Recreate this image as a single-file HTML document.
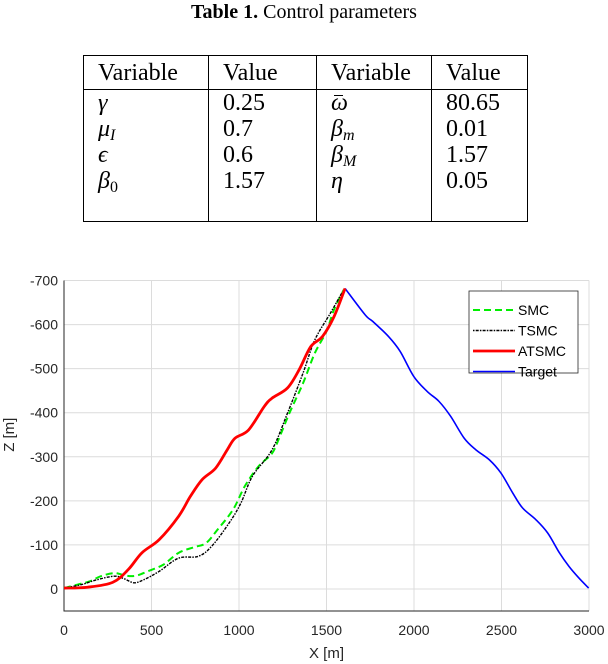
<!DOCTYPE html>
<html><head><meta charset="utf-8">
<style>
html,body{margin:0;padding:0;background:#fff;width:608px;height:664px;overflow:hidden;position:relative}
.title{position:absolute;left:0;width:608px;top:0;text-align:center;font-family:"Liberation Serif",serif;font-size:20px;line-height:24px;color:#000}
table{position:absolute;left:83px;top:55px;border-collapse:collapse;font-family:"Liberation Serif",serif;font-size:24px;color:#000;border:1.3px solid #000}
td{border-left:1.3px solid #000;border-right:1.3px solid #000;padding:0 0 0 14px;height:26px;line-height:24px;vertical-align:middle;box-sizing:border-box}
tr.h td{border-bottom:1.3px solid #000;height:34px}
tr.last td{height:54px;vertical-align:top;padding-top:1px}
i{font-style:italic}
sub{font-size:16px;vertical-align:-4px;line-height:0}
.bar{position:absolute;left:3px;top:-4px;width:9px;height:1.3px;background:#000}
</style></head><body>
<div class="title"><b>Table 1.</b> Control parameters</div>
<table>
<tr class="h"><td style="width:125px">Variable</td><td style="width:108px">Value</td><td style="width:115px">Variable</td><td style="width:96px">Value</td></tr>
<tr><td><i>γ</i></td><td>0.25</td><td><span style="position:relative;display:inline-block"><i>ω</i><span class="bar" style="top:4px"></span></span></td><td>80.65</td></tr>
<tr><td><i>μ<sub>I</sub></i></td><td>0.7</td><td><i>β<sub>m</sub></i></td><td>0.01</td></tr>
<tr><td><i>ϵ</i></td><td>0.6</td><td><i>β<sub>M</sub></i></td><td>1.57</td></tr>
<tr class="last"><td><i>β</i><sub>0</sub></td><td>1.57</td><td><i>η</i></td><td>0.05</td></tr>
</table>
<svg id="chart" width="608" height="664" style="position:absolute;left:0;top:0"></svg>
<script>
const xTicks=[0,500,1000,1500,2000,2500,3000];
const yTicks=[-700,-600,-500,-400,-300,-200,-100,0];
const targetX=[1606,1721,1765,1854,1921,1999,2076,2142,2209,2287,2353,2431,2497,2564,2620,2697,2764,2831,2886,2942,2998];
const targetZ=[-682,-622,-607,-573,-539,-482,-448,-426,-392,-342,-316,-293,-263,-218,-184,-157,-127,-82,-51,-25,-2];
const atsmcX=[0,134,278,367,445,544,655,722,789,866,933,977,1055,1144,1189,1277,1343,1410,1477,1543,1606];
const atsmcZ=[-2,-4,-15,-44,-82,-112,-165,-210,-248,-274,-316,-342,-361,-414,-433,-456,-497,-550,-573,-618,-682];
const smcX=[0,78,145,211,289,356,411,478,567,655,745,811,878,966,1033,1111,1189,1233,1288,1366,1433,1499,1543,1599];
const smcZ=[-2,-10,-17,-29,-36,-30,-30,-40,-55,-82,-95,-104,-135,-180,-233,-278,-308,-346,-399,-467,-535,-584,-634,-679];
const tsmcX=[0,100,189,289,345,400,456,544,655,767,844,944,1011,1077,1189,1277,1366,1433,1521,1588];
const tsmcZ=[-2,-10,-21,-29,-23,-14,-21,-40,-70,-74,-97,-150,-195,-256,-316,-399,-490,-565,-625,-672];

const L=64,R=589,T=280.5,B=611;
const sx=v=>L+(v-0)/3000*(R-L);
const sy=v=>T+(v+700)/750*(B-T);
const svg=document.getElementById('chart');
const NS='http://www.w3.org/2000/svg';
function mk(tag,attrs,parent){const e=document.createElementNS(NS,tag);for(const k in attrs)e.setAttribute(k,attrs[k]);(parent||svg).appendChild(e);return e;}
mk('rect',{x:L,y:T,width:R-L,height:B-T,fill:'#fff'});
xTicks.forEach(v=>{
  const g=mk('line',{x1:sx(v),x2:sx(v),y1:T,y2:B,stroke:'#dcdcdc','stroke-width':1});
  
  
  const t=mk('text',{x:sx(v),y:B+24,'text-anchor':'middle','font-family':'Liberation Sans, sans-serif','font-size':14,fill:'#262626'});
  t.textContent=v;
  
  
});
yTicks.forEach(v=>{
  const g=mk('line',{x1:L,x2:R,y1:sy(v),y2:sy(v),stroke:'#dcdcdc','stroke-width':1});
  
  
  const t=mk('text',{x:L-6,y:sy(v)+5,'text-anchor':'end','font-family':'Liberation Sans, sans-serif','font-size':14,fill:'#262626'});
  t.textContent=v;
  
  
});
const ax=mk('path',{d:`M${L},${T}V${B}H${R}`,fill:'none',stroke:'#262626','stroke-width':1});


function smooth(xs,zs){
  const p=xs.map((x,i)=>[sx(x),sy(zs[i])]);
  let d=`M${p[0][0]},${p[0][1]}`;
  for(let i=0;i<p.length-1;i++){
    const p0=p[i-1]||p[i],p1=p[i],p2=p[i+1],p3=p[i+2]||p2;
    d+=` C${p1[0]+(p2[0]-p0[0])/6},${p1[1]+(p2[1]-p0[1])/6} ${p2[0]-(p3[0]-p1[0])/6},${p2[1]-(p3[1]-p1[1])/6} ${p2[0]},${p2[1]}`;
  }
  return d;
}
const tl=mk('path',{d:smooth(targetX,targetZ),fill:'none',stroke:'#0000ff','stroke-width':1.6});


const sl=mk('path',{d:smooth(smcX,smcZ),fill:'none',stroke:'#00ee00','stroke-width':2,'stroke-dasharray':'7,4'});


const bl=mk('path',{d:smooth(tsmcX,tsmcZ),fill:'none',stroke:'#000','stroke-width':1.4,'stroke-dasharray':'1.5,1.2,3,1.2'});


const al=mk('path',{d:smooth(atsmcX,atsmcZ),fill:'none',stroke:'#ff0000','stroke-width':2.8});


const lg=mk('g',{});


mk('rect',{x:469,y:291,width:109,height:82,fill:'#fff',stroke:'#262626','stroke-width':0.8},lg);
const entries=[['SMC','#00ee00',2,'7,4'],['TSMC','#000',1.4,'1.5,1.2,3,1.2'],['ATSMC','#ff0000',2.8,''],['Target','#0000ff',1.6,'']];
entries.forEach((e,i)=>{
  const y=310+i*20.5;
  const ln=mk('line',{x1:473,x2:515,y1:y,y2:y,stroke:e[1],'stroke-width':e[2],'stroke-dasharray':e[3]},lg);
  
  
  const t=mk('text',{x:518,y:y+5,'font-family':'Liberation Sans, sans-serif','font-size':14,fill:'#000'},lg);
  t.textContent=e[0];
  
  
});
const xl=mk('text',{x:(L+R)/2,y:658,'text-anchor':'middle','font-family':'Liberation Sans, sans-serif','font-size':15,fill:'#262626'});
xl.textContent='X [m]';


const yl=mk('text',{x:0,y:0,'text-anchor':'middle','font-family':'Liberation Sans, sans-serif','font-size':15,fill:'#262626',transform:`translate(14,${sy(-350)}) rotate(-90)`});
yl.textContent='Z [m]';


</script>
</body></html>
